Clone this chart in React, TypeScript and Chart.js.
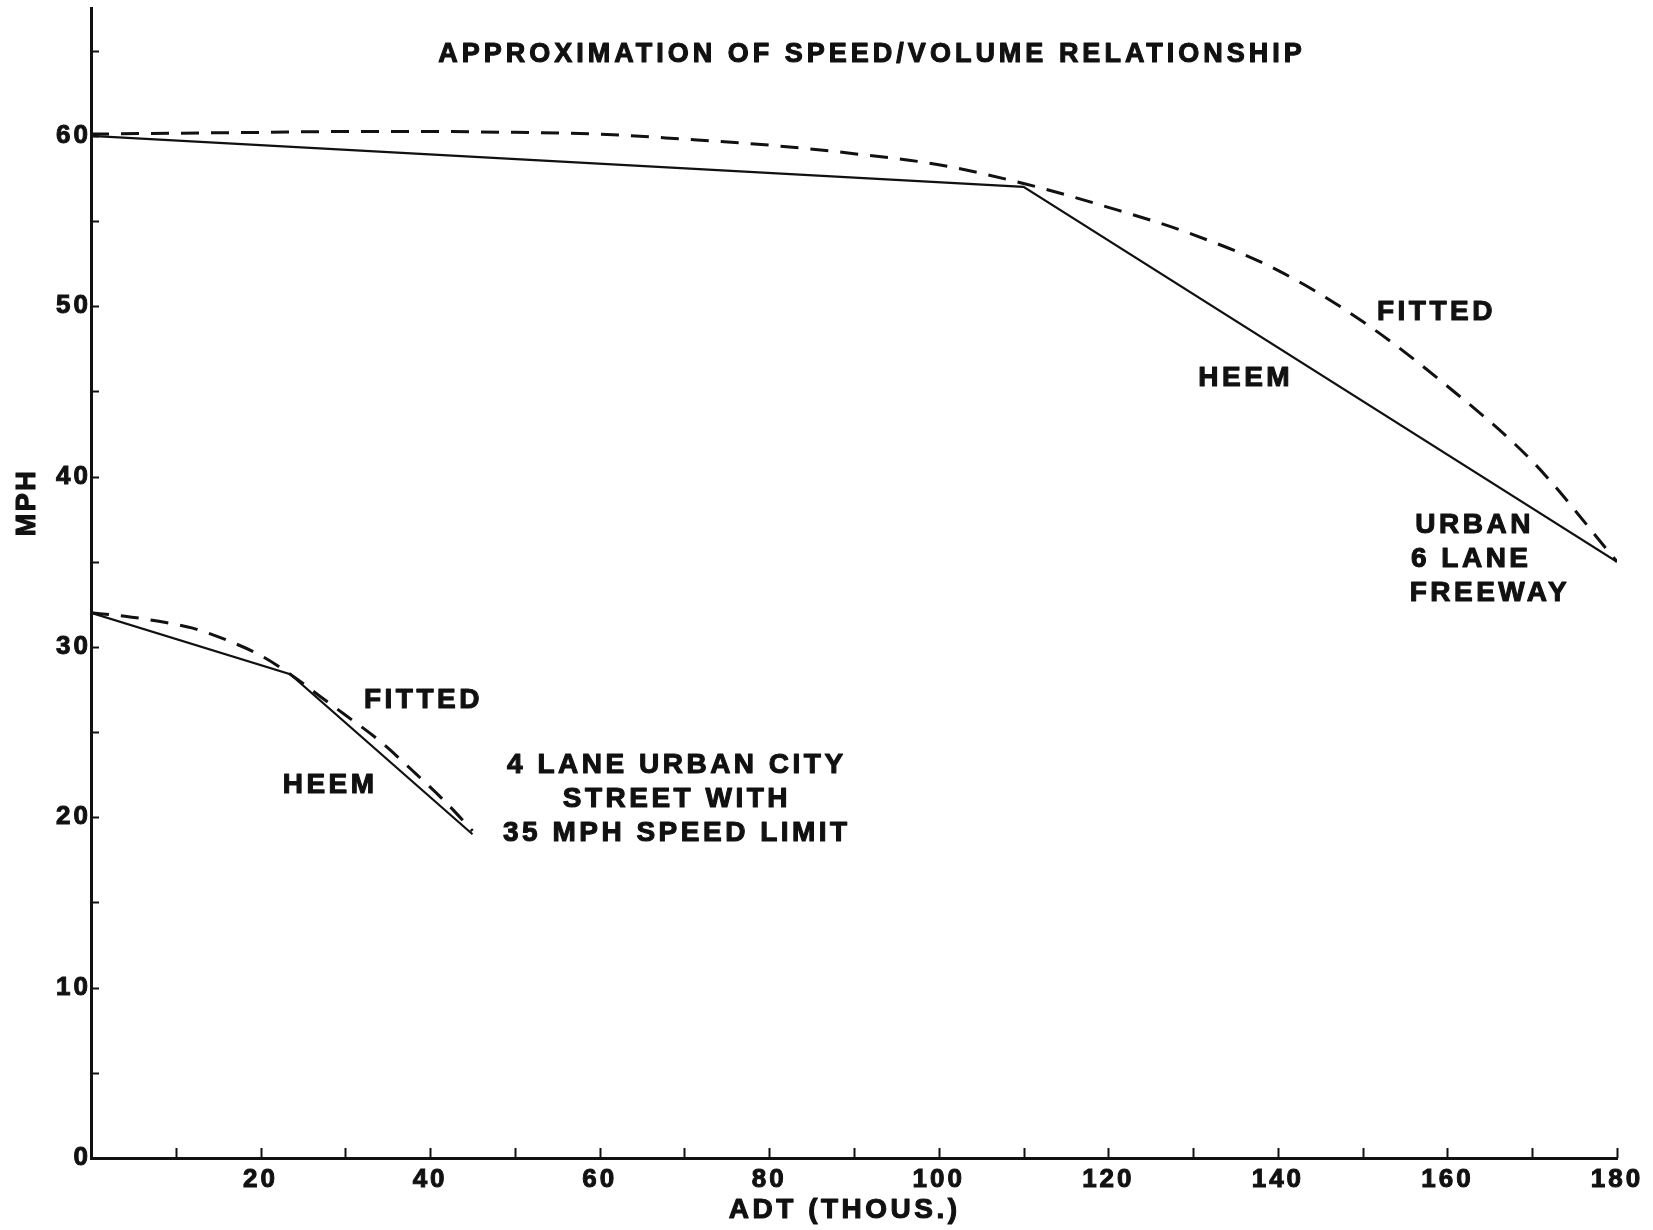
import React, { useEffect, useRef } from "react";
import { Chart, registerables } from "chart.js";

Chart.register(...registerables);

// ---- data ----
const freewayHeemX = [0, 110, 180];
const freewayHeemY = [60, 57, 35];

const freewayFittedX = [0, 10, 20, 30, 40, 50, 60, 70, 80, 90, 100, 110, 120, 130, 140, 150, 160, 170, 180];
const freewayFittedY = [60.1, 60.15, 60.2, 60.25, 60.25, 60.2, 60.1, 59.8, 59.45, 58.95, 58.3, 57.2, 55.8, 54.2, 52.1, 49.1, 45.3, 40.9, 35];

const cityHeemX = [0, 23.5, 45];
const cityHeemY = [32, 28.4, 19];

const cityFittedX = [0, 4, 8, 12, 16, 20, 23.5, 27, 30, 34, 38, 42, 45];
const cityFittedY = [32, 31.8, 31.5, 31.1, 30.4, 29.5, 28.4, 27.1, 26.0, 24.5, 22.7, 20.8, 19.2];

const xLabelValues = [20, 40, 60, 80, 100, 120, 140, 160, 180];
const yLabelValues = [0, 10, 20, 30, 40, 50, 60];

const titleText = "APPROXIMATION OF SPEED/VOLUME RELATIONSHIP";
const xTitleText = "ADT (THOUS.)";
const yTitleText = "MPH";
const freewayFittedLabel = "FITTED";
const freewayHeemLabel = "HEEM";
const freewayNameLines = ["URBAN", "6 LANE", "FREEWAY"];
const cityFittedLabel = "FITTED";
const cityHeemLabel = "HEEM";
const cityNameLines = ["4 LANE URBAN CITY", "STREET WITH", "35 MPH SPEED LIMIT"];

const FONT = '"Liberation Sans", Arial, Helvetica, sans-serif';
const INK = "#111111";

const zip = (xs: number[], ys: number[]) => xs.map((x, i) => ({ x, y: ys[i] }));

function drawLabel(
  ctx: CanvasRenderingContext2D,
  text: string,
  cx: number,
  cy: number,
  size: number,
  spacing: number,
  rotate = false
) {
  ctx.save();
  ctx.font = `bold ${size}px ${FONT}`;
  (ctx as any).letterSpacing = `${spacing}px`;
  ctx.fillStyle = INK;
  ctx.strokeStyle = INK;
  ctx.lineWidth = 1.1;
  ctx.lineJoin = "round";
  ctx.textAlign = "center";
  ctx.textBaseline = "alphabetic";
  ctx.translate(cx, cy);
  if (rotate) ctx.rotate(-Math.PI / 2);
  // centre on cap height, compensate trailing letter spacing
  ctx.fillText(text, spacing / 2, size * 0.358);
  ctx.strokeText(text, spacing / 2, size * 0.358);
  ctx.restore();
}

const decorPlugin = {
  id: "decor",
  beforeDraw(chart: any) {
    (chart.ctx as any).letterSpacing = "3px";
  },
  afterDraw(chart: any) {
    const ctx: CanvasRenderingContext2D = chart.ctx;
    const xs = chart.scales.x;
    const ys = chart.scales.y;
    const area = chart.chartArea;
    const px = (v: number) => xs.getPixelForValue(v);
    const py = (v: number) => ys.getPixelForValue(v);

    // inward tick marks
    ctx.save();
    (ctx as any).letterSpacing = "0px";
    ctx.strokeStyle = INK;
    ctx.lineWidth = 2;
    xs.ticks.forEach((t: any) => {
      if (t.value === 0) return;
      const x = Math.round(px(t.value)) + 0.5;
      ctx.beginPath();
      ctx.moveTo(x, area.bottom);
      ctx.lineTo(x, area.bottom - 10);
      ctx.stroke();
    });
    ys.ticks.forEach((t: any) => {
      if (t.value === 0) return;
      const y = Math.round(py(t.value)) + 0.5;
      ctx.beginPath();
      ctx.moveTo(area.left, y);
      ctx.lineTo(area.left + 8, y);
      ctx.stroke();
    });
    ctx.restore();

    // title
    drawLabel(ctx, titleText, px(91.9), py(64.9), 27, 4);
    // axis titles
    drawLabel(ctx, xTitleText, px(88.7), area.bottom + 50, 28, 3.5);
    drawLabel(ctx, yTitleText, area.left - 66, py(38.4), 27, 2.5, true);

    // freeway annotations
    drawLabel(ctx, freewayFittedLabel, px(158.5), py(49.8), 28, 3.5);
    drawLabel(ctx, freewayHeemLabel, px(136.0), py(45.9), 28, 3.5);
    const fwX = [163, 162.6, 164.8];
    const fwY = [37.3, 35.3, 33.3];
    freewayNameLines.forEach((s, i) => drawLabel(ctx, s, px(fwX[i]), py(fwY[i]), 28, 3.5));

    // city street annotations
    drawLabel(ctx, cityFittedLabel, px(39.0), py(27.0), 28, 3.5);
    drawLabel(ctx, cityHeemLabel, px(28.0), py(22.0), 28, 3.5);
    const ctyY = [23.2, 21.2, 19.2];
    cityNameLines.forEach((s, i) => drawLabel(ctx, s, px(68.9), py(ctyY[i]), 28, 3.5));
  },
};

export default function App() {
  const canvasRef = useRef<HTMLCanvasElement | null>(null);

  useEffect(() => {
    if (!canvasRef.current) return;
    const solid = { borderColor: INK, borderWidth: 2.2, pointRadius: 0, showLine: true, fill: false, tension: 0 };
    const dashed = {
      borderColor: INK,
      borderWidth: 3,
      borderDash: [18, 12],
      pointRadius: 0,
      showLine: true,
      fill: false,
      cubicInterpolationMode: "monotone" as const,
    };
    const tickFont = { family: FONT, size: 26, weight: "bold" as const };
    const chart = new Chart(canvasRef.current, {
      type: "scatter",
      data: {
        datasets: [
          { label: "Freeway HEEM", data: zip(freewayHeemX, freewayHeemY), ...solid },
          { label: "Freeway Fitted", data: zip(freewayFittedX, freewayFittedY), ...dashed },
          { label: "City HEEM", data: zip(cityHeemX, cityHeemY), ...solid },
          { label: "City Fitted", data: zip(cityFittedX, cityFittedY), ...dashed },
        ],
      },
      options: {
        animation: false,
        responsive: false,
        devicePixelRatio: 1,
        layout: { padding: { top: 8, right: 36, left: 0, bottom: 0 } },
        plugins: {
          legend: { display: false },
          tooltip: { enabled: false },
          title: { display: false },
        },
        scales: {
          x: {
            type: "linear",
            min: 0,
            max: 180,
            grid: { display: false, drawTicks: false },
            border: { display: true, color: INK, width: 3 },
            ticks: {
              stepSize: 10,
              autoSkip: false,
              maxRotation: 0,
              includeBounds: false,
              padding: 6,
              color: INK,
              textStrokeColor: INK,
              textStrokeWidth: 1,
              font: tickFont,
              callback: (v: any) => (xLabelValues.includes(Number(v)) ? String(v) : ""),
            },
            afterFit: (s: any) => {
              s.height = 72;
              s.paddingLeft = 0;
              s.paddingRight = 0;
            },
          },
          y: {
            type: "linear",
            min: 0,
            max: 67.5,
            grid: { display: false, drawTicks: false },
            border: { display: true, color: INK, width: 3 },
            ticks: {
              stepSize: 5,
              autoSkip: false,
              includeBounds: false,
              padding: 0,
              color: INK,
              textStrokeColor: INK,
              textStrokeWidth: 1,
              font: tickFont,
              callback: (v: any) => (yLabelValues.includes(Number(v)) ? String(v) : ""),
            },
            afterFit: (s: any) => {
              s.width = 91;
              s.paddingTop = 0;
              s.paddingBottom = 0;
            },
          },
        },
      },
      plugins: [decorPlugin],
    });
    return () => chart.destroy();
  }, []);

  return (
    <div style={{ position: "absolute", left: 0, top: 0, width: 1653, height: 1230, background: "#fff" }}>
      <canvas ref={canvasRef} width={1653} height={1230} style={{ width: 1653, height: 1230, display: "block" }} />
    </div>
  );
}
